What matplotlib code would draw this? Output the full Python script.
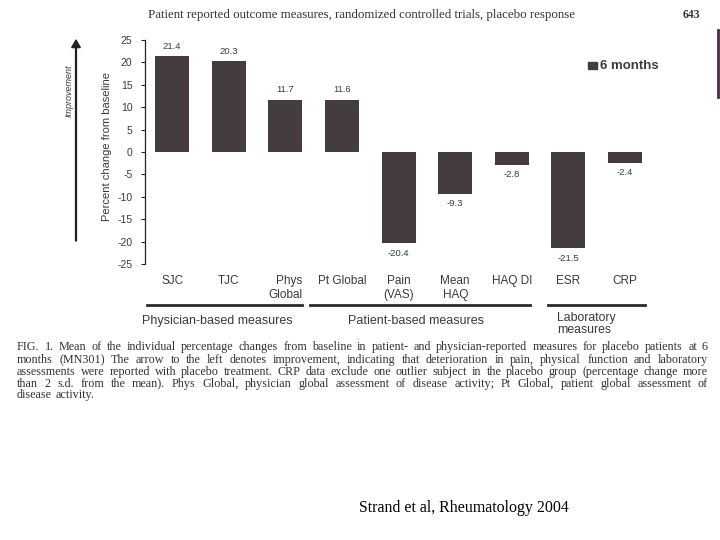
import numpy as np
import matplotlib.pyplot as plt
from matplotlib.lines import Line2D
from matplotlib.patches import FancyArrow, Rectangle

# data
categories = ['SJC', 'TJC', 'Phys\nGlobal', 'Pt Global', 'Pain\n(VAS)', 'Mean\nHAQ', 'HAQ DI', 'ESR', 'CRP']
values = [21.4, 20.3, 11.7, 11.6, -20.4, -9.3, -2.8, -21.5, -2.4]
value_text = ['21.4', '20.3', '11.7', '11.6', '-20.4', '-9.3', '-2.8', '-21.5', '-2.4']
yticks = [25, 20, 15, 10, 5, 0, -5, -10, -15, -20, -25]
groups = ['Physician-based measures', 'Patient-based measures', 'Laboratory\nmeasures']

caption = [
    "FIG. 1. Mean of the individual percentage changes from baseline in patient- and physician-reported measures for placebo patients at 6",
    "months (MN301) The arrow to the left denotes improvement, indicating that deterioration in pain, physical function and laboratory",
    "assessments were reported with placebo treatment. CRP data exclude one outlier subject in the placebo group (percentage change more",
    "than 2 s.d. from the mean). Phys Global, physician global assessment of disease activity; Pt Global, patient global assessment of",
    "disease activity.",
]

W, H = 720, 540
bar_color = '#453c3e'
txt = '#3a3a3a'
sans = 'Liberation Sans'
serif = 'Liberation Serif'


def fx(x):
    return x / W


def fy(y):
    return 1 - y / H


fig = plt.figure(figsize=(7.2, 5.4), dpi=100)

# main axes
ax = fig.add_axes([fx(145), fy(264), (659 - 145) / W, 224 / H])
x = np.arange(len(categories))
ax.bar(x, values, width=0.6, color=bar_color)
ax.set_xlim(-0.48, 8.6)
ax.set_ylim(-25, 25)
for s in ['top', 'right', 'bottom']:
    ax.spines[s].set_visible(False)
ax.spines['left'].set_color('#222222')
ax.spines['left'].set_linewidth(0.9)
ax.set_yticks(yticks)
ax.set_yticklabels([str(t) for t in yticks], fontsize=7.5, color=txt, family=sans)
ax.tick_params(axis='y', length=3, width=0.8, pad=6, color='#222222')
ax.set_xticks(x)
ax.set_xticklabels(categories, fontsize=8.5, color=txt, family=sans, linespacing=1.2)
ax.tick_params(axis='x', length=0, pad=8)
for lbl in ax.get_xticklabels():
    if lbl.get_text().startswith('Phys'):
        lbl.set_multialignment('right')

for xi, v, t in zip(x, values, value_text):
    if v >= 0:
        ax.annotate(t, (xi, v), xytext=(0, 4), textcoords='offset points',
                    ha='center', va='bottom', fontsize=6.8, color=txt, family=sans)
    else:
        ax.annotate(t, (xi, v), xytext=(0, -4), textcoords='offset points',
                    ha='center', va='top', fontsize=6.8, color=txt, family=sans)

# y label and improvement arrow
fig.text(fx(107), fy(147), 'Percent change from baseline', rotation=90, ha='center', va='center',
         fontsize=8, color=txt, family=sans)
fig.text(fx(69), fy(91), 'Improvement', rotation=90, ha='center', va='center',
         fontsize=6.5, style='italic', color=txt, family=sans)
fig.add_artist(FancyArrow(fx(76), fy(241), 0, fy(40) - fy(241), width=0.0012,
                          head_width=0.012, head_length=0.014, length_includes_head=True,
                          color='#222222', transform=fig.transFigure))

# legend
fig.add_artist(Rectangle((fx(588), fy(69)), 9 / W, 7 / H, color=bar_color, transform=fig.transFigure))
fig.text(fx(600), fy(66), '6 months', ha='left', va='center', fontsize=9.5, fontweight='bold',
         color=txt, family=sans)

# group brackets
seg = [(147, 302), (310, 530), (548, 645)]
for x1, x2 in seg:
    fig.add_artist(Line2D([fx(x1), fx(x2)], [fy(305), fy(305)], color='#2a2a2a', lw=2))
fig.text(fx(217), fy(321), groups[0], ha='center', va='center', fontsize=9, color=txt, family=sans)
fig.text(fx(416), fy(321), groups[1], ha='center', va='center', fontsize=9, color=txt, family=sans)
fig.text(fx(557), fy(324), groups[2], ha='left', va='center', fontsize=8.8, color=txt, family=sans,
         linespacing=1.05)

# page header
fig.text(fx(362), fy(15), 'Patient reported outcome measures, randomized controlled trials, placebo response',
         ha='center', va='center', fontsize=9.3, color='#333333', family=serif)
fig.text(fx(700), fy(15), '643', ha='right', va='center', fontsize=8.5, fontweight='bold',
         color='#333333', family=serif)
fig.add_artist(Line2D([fx(718), fx(718)], [fy(30), fy(97)], color='#4a2a4a', lw=2))

# justified caption
renderer = fig.canvas.get_renderer()
left, right = 17, 708
line_y = [347, 360, 372, 384, 395]
for i, (line, ly) in enumerate(zip(caption, line_y)):
    words = line.split(' ')
    objs = [fig.text(0, fy(ly), w, ha='left', va='center', fontsize=8.7, color='#333333', family=serif)
            for w in words]
    widths = [o.get_window_extent(renderer).width for o in objs]
    if i < len(caption) - 1:
        gap = (right - left - sum(widths)) / (len(words) - 1)
    else:
        gap = 3.5
    cx = left
    for o, wd in zip(objs, widths):
        o.set_x(fx(cx))
        cx += wd + gap

# citation
fig.text(fx(464), fy(508), 'Strand et al, Rheumatology 2004', ha='center', va='center',
         fontsize=11.4, color='black', family=serif)

fig.savefig('out.png', dpi=100)
